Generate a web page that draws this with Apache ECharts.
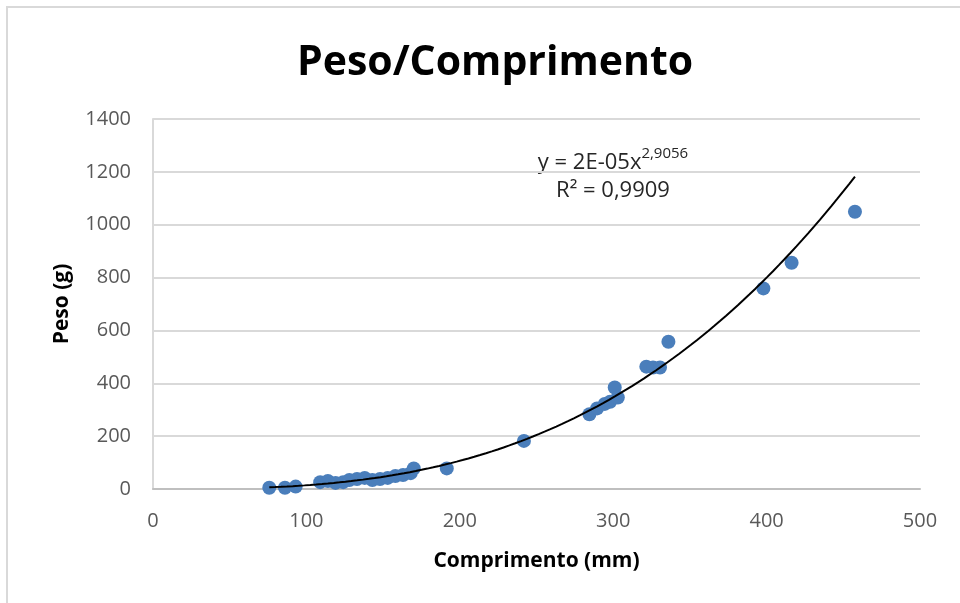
<!DOCTYPE html>
<html>
<head>
<meta charset="utf-8">
<script src="https://cdn.jsdelivr.net/npm/echarts@6/dist/echarts.min.js"></script>
<style>
html,body{margin:0;padding:0;background:#fff;}
#c{width:960px;height:603px;}
</style>
</head>
<body>
<div id="c"></div>
<script>
// Data
var comprimento = [75.8, 86, 93, 109, 114, 119, 124, 128, 133, 138, 143, 148, 153, 158, 163, 168, 170, 191.5,
  241.8, 284.5, 289.5, 294.5, 298, 301, 303, 321.6, 326, 330.5, 336, 397.9, 416.3, 457.6];
var peso = [5, 5, 9, 26, 30, 23, 26, 34, 38, 42, 34, 38, 42, 49, 53, 60, 78, 78,
  182, 283, 305, 322, 330, 384, 346, 463, 460, 460, 557, 759, 856, 1049];
var xTicks = [0, 100, 200, 300, 400, 500];
var yTicks = [0, 200, 400, 600, 800, 1000, 1200, 1400];
// Power trendline y = a * x^b (as drawn in the reference)
var trendA = 2.2e-5;
var trendB = 2.9056;

var points = comprimento.map(function (x, i) { return [x, peso[i]]; });
var xMin = Math.min.apply(null, comprimento), xMax = Math.max.apply(null, comprimento);
var trend = [];
for (var k = 0; k <= 100; k++) {
  var xx = xMin + (xMax - xMin) * k / 100;
  trend.push([xx, trendA * Math.pow(xx, trendB)]);
}

var chart = echarts.init(document.getElementById('c'), null, {renderer: 'canvas'});
chart.setOption({
  animation: false,
  backgroundColor: '#ffffff',
  title: {
    text: 'Peso/Comprimento',
    left: 490,
    textAlign: 'center',
    top: 38,
    textStyle: {fontFamily: 'Open Sans', fontWeight: 'bold', fontSize: 41, color: '#000000'}
  },
  graphic: [
    {type: 'polyline', shape: {points: [[7, 610], [7, 7], [970, 7]]},
     style: {stroke: '#d9d9d9', lineWidth: 2, fill: null}, silent: true},
    {type: 'text', x: 613, y: 160,
     style: {
       text: '{n|y = 2E-05x}{s|2,9056}',
       rich: {
         n: {fontFamily: 'Open Sans', fontSize: 22, fill: '#262626', verticalAlign: 'bottom'},
         s: {fontFamily: 'Open Sans', fontSize: 15, fill: '#262626', padding: [0, 0, 13, 0], verticalAlign: 'bottom'}
       },
       align: 'center', verticalAlign: 'middle'
     }, silent: true},
    {type: 'text', x: 613, y: 191,
     style: {text: 'R² = 0,9909', fontFamily: 'Open Sans', fontSize: 22, fill: '#262626',
             align: 'center', verticalAlign: 'middle'}, silent: true}
  ],
  grid: {left: 153, right: 40, top: 119, bottom: 114},
  xAxis: {
    type: 'value', min: xTicks[0], max: xTicks[xTicks.length - 1], interval: 100,
    name: 'Comprimento (mm)', nameLocation: 'middle', nameGap: 62,
    nameTextStyle: {fontFamily: 'Open Sans', fontWeight: 'bold', fontSize: 21, color: '#000000'},
    axisLine: {show: true, lineStyle: {color: '#bfbfbf', width: 2}},
    axisTick: {show: false},
    splitLine: {show: false},
    axisLabel: {fontFamily: 'Open Sans', fontSize: 20, color: '#595959', margin: 22,
                formatter: function (v) { return String(v); }}
  },
  yAxis: {
    type: 'value', min: yTicks[0], max: yTicks[yTicks.length - 1], interval: 200,
    name: 'Peso (g)', nameLocation: 'middle', nameGap: 80, nameRotate: 90,
    nameTextStyle: {fontFamily: 'Open Sans', fontWeight: 'bold', fontSize: 21, color: '#000000'},
    axisLine: {show: true, lineStyle: {color: '#d9d9d9', width: 2}},
    axisTick: {show: false},
    splitLine: {show: true, lineStyle: {color: '#d9d9d9', width: 2}},
    axisLabel: {fontFamily: 'Open Sans', fontSize: 20, color: '#595959', margin: 22,
                formatter: function (v) { return String(v); }}
  },
  series: [
    {
      type: 'scatter', data: points, symbol: 'circle', symbolSize: 14,
      itemStyle: {color: '#4a7ebb', opacity: 1}, z: 2
    },
    {
      type: 'line', data: trend, showSymbol: false, smooth: false,
      lineStyle: {color: '#000000', width: 2}, z: 3
    }
  ]
});
</script>
</body>
</html>
